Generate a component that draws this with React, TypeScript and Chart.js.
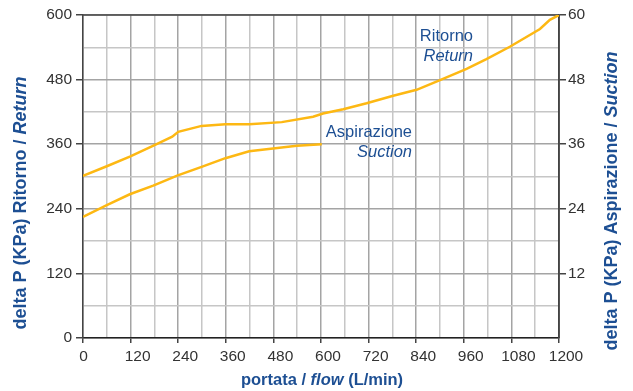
import React, { useEffect, useRef } from "react";
import { Chart, registerables } from "chart.js";

Chart.register(...registerables);

const returnFlow = [0, 60, 118, 179, 225, 240, 299, 359, 419, 501, 580, 605, 656, 715, 782, 841, 900, 967, 1017, 1076, 1152, 1177, 1200];
const returnKPa = [301, 319, 337, 358, 374, 383, 394, 397, 397, 401, 411, 417, 425, 436, 450, 461, 479, 500, 518, 541, 574, 591, 600];

const suctionFlow = [0, 60, 118, 177, 239, 299, 359, 419, 479, 539, 602];
const suctionKPa = [22.5, 24.7, 26.7, 28.3, 30.2, 31.8, 33.4, 34.7, 35.2, 35.7, 36.0];

const xTickLabels = [0, 120, 240, 360, 480, 600, 720, 840, 960, 1080, 1200];
const leftTickLabels = [0, 120, 240, 360, 480, 600];
const rightTickLabels = [12, 24, 36, 48, 60];

const FONT = "'Liberation Sans', Arial, sans-serif";
const BLUE = "#1d4f93";
const LINE = "#FDB813";
const TICK_TEXT = "#333333";

type Part = { text: string; font: string };

function drawMixed(ctx: CanvasRenderingContext2D, parts: Part[], cx: number, cy: number, rot: number, color: string, align: "center" | "right" = "center") {
  ctx.save();
  ctx.translate(cx, cy);
  ctx.rotate(rot);
  ctx.fillStyle = color;
  ctx.textBaseline = "middle";
  ctx.textAlign = "left";
  let total = 0;
  for (const p of parts) {
    ctx.font = p.font;
    total += ctx.measureText(p.text).width;
  }
  let x = align === "center" ? -total / 2 : -total;
  for (const p of parts) {
    ctx.font = p.font;
    ctx.fillText(p.text, x, 0);
    x += ctx.measureText(p.text).width;
  }
  ctx.restore();
}

const textPlugin = {
  id: "texts",
  beforeDatasetsDraw(chart: any) {
    const { ctx, chartArea } = chart;
    ctx.save();
    ctx.strokeStyle = "#444";
    ctx.lineWidth = 1.5;
    ctx.beginPath();
    ctx.moveTo(chartArea.left, chartArea.top);
    ctx.lineTo(chartArea.right, chartArea.top);
    ctx.lineTo(chartArea.right, chartArea.bottom);
    ctx.stroke();
    ctx.restore();
  },
  afterDraw(chart: any) {
    const ctx = chart.ctx as CanvasRenderingContext2D;
    const bx = `bold 16.5px ${FONT}`;
    const bix = `italic bold 16.5px ${FONT}`;
    drawMixed(ctx, [{ text: "portata / ", font: bx }, { text: "flow", font: bix }, { text: " (L/min)", font: bx }], 322, 380, 0, BLUE);
    const b = `bold 18px ${FONT}`;
    const bi = `italic bold 18px ${FONT}`;
    drawMixed(ctx, [{ text: "delta P (KPa) Ritorno / ", font: b }, { text: "Return", font: bi }], 21, 203, -Math.PI / 2, BLUE);
    drawMixed(ctx, [{ text: "delta P (KPa) Aspirazione / ", font: b }, { text: "Suction", font: bi }], 612, 201, -Math.PI / 2, BLUE);
    const n = `16.5px ${FONT}`;
    const it = `italic 16.5px ${FONT}`;
    drawMixed(ctx, [{ text: "Ritorno", font: n }], 473, 36, 0, BLUE, "right");
    drawMixed(ctx, [{ text: "Return", font: it }], 473, 56, 0, BLUE, "right");
    drawMixed(ctx, [{ text: "Aspirazione", font: n }], 412, 132, 0, BLUE, "right");
    drawMixed(ctx, [{ text: "Suction", font: it }], 412, 152, 0, BLUE, "right");
  },
};

export default function App() {
  const ref = useRef<HTMLCanvasElement>(null);
  useEffect(() => {
    if (!ref.current) return;
    const isMajor = (v: number, list: number[]) => list.includes(v);
    const chart = new Chart(ref.current, {
      type: "line",
      data: {
        datasets: [
          {
            label: "Ritorno / Return",
            data: returnFlow.map((x, i) => ({ x, y: returnKPa[i] })),
            borderColor: LINE,
            borderWidth: 2.5,
            pointRadius: 0,
            tension: 0,
            yAxisID: "y",
          },
          {
            label: "Aspirazione / Suction",
            data: suctionFlow.map((x, i) => ({ x, y: suctionKPa[i] })),
            borderColor: LINE,
            borderWidth: 2.5,
            pointRadius: 0,
            tension: 0,
            yAxisID: "y1",
          },
        ],
      },
      options: {
        responsive: false,
        animation: false,
        devicePixelRatio: 1,
        layout: { padding: { top: 15, left: 0, right: 0, bottom: 0 } },
        plugins: { legend: { display: false }, tooltip: { enabled: false } },
        scales: {
          x: {
            type: "linear",
            min: 0,
            max: 1200,
            afterFit: (s: any) => { s.height = 53; },
            ticks: {
              stepSize: 60,
              autoSkip: false,
              maxRotation: 0,
              padding: 4,
              labelOffset: 7,
              color: TICK_TEXT,
              font: { family: FONT, size: 15.5 },
              callback: (v: any) => {
                const n = Number(v);
                if (!isMajor(n, xTickLabels)) return "";
                return n === 0 ? "0   " : String(n);
              },
            },
            grid: {
              tickLength: 5,
              color: (c: any) => (isMajor(c.tick?.value, xTickLabels) ? "#a4a4a4" : "#c6c6c6"),
              tickColor: (c: any) => (isMajor(c.tick?.value, xTickLabels) ? "#444" : "rgba(0,0,0,0)"),
              lineWidth: 1.5,
            },
            border: { display: true, color: "#222", width: 1.5 },
          },
          y: {
            type: "linear",
            position: "left",
            min: 0,
            max: 600,
            afterFit: (s: any) => { s.width = 83; },
            ticks: {
              stepSize: 60,
              autoSkip: false,
              padding: 4,
              color: TICK_TEXT,
              font: { family: FONT, size: 15.5 },
              callback: (v: any) => (isMajor(Number(v), leftTickLabels) ? String(v) : ""),
            },
            grid: {
              tickLength: 7,
              color: (c: any) => (isMajor(c.tick?.value, leftTickLabels) ? "#a4a4a4" : "#c6c6c6"),
              tickColor: (c: any) => (isMajor(c.tick?.value, leftTickLabels) ? "#444" : "rgba(0,0,0,0)"),
              lineWidth: 1.5,
            },
            border: { display: true, color: "#444", width: 1.5 },
          },
          y1: {
            type: "linear",
            position: "right",
            min: 0,
            max: 60,
            afterFit: (s: any) => { s.width = 74; },
            ticks: {
              stepSize: 6,
              autoSkip: false,
              padding: 2,
              color: TICK_TEXT,
              font: { family: FONT, size: 15.5 },
              callback: (v: any) => (isMajor(Number(v), rightTickLabels) ? String(v) : ""),
            },
            grid: {
              drawOnChartArea: false,
              tickLength: 7,
              tickColor: (c: any) => (isMajor(c.tick?.value, rightTickLabels) ? "#444" : "rgba(0,0,0,0)"),
              lineWidth: 1.5,
            },
            border: { display: true, color: "#444", width: 1.5 },
          },
        },
      },
      plugins: [textPlugin],
    });
    return () => chart.destroy();
  }, []);
  return (
    <div style={{ position: "absolute", left: 0, top: 0, width: 633, height: 391, background: "#fff" }}>
      <canvas ref={ref} width={633} height={391} />
    </div>
  );
}
